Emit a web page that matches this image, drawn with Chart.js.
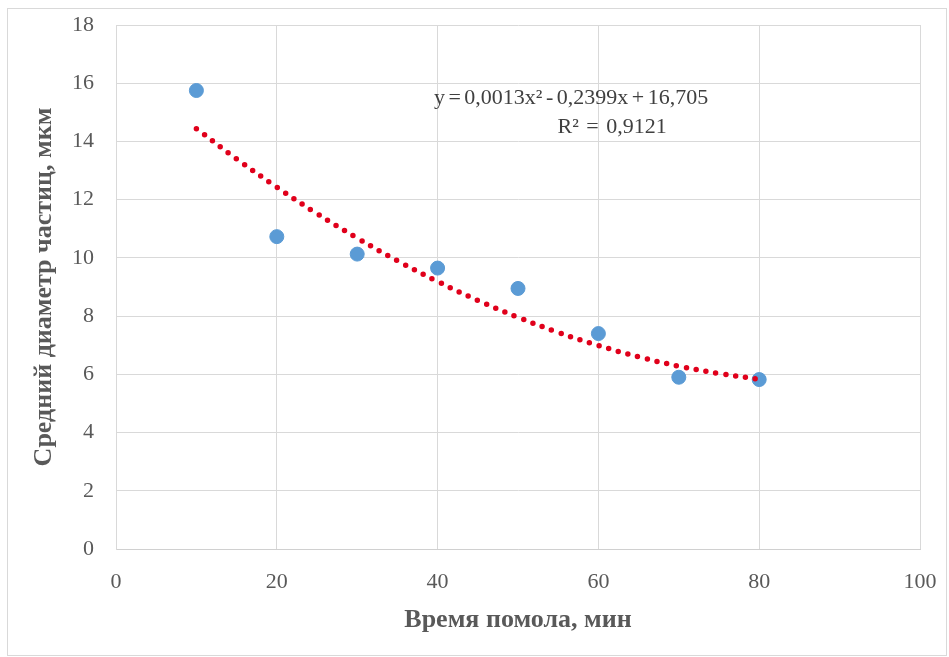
<!DOCTYPE html>
<html>
<head>
<meta charset="utf-8">
<script src="https://cdn.jsdelivr.net/npm/chart.js@4/dist/chart.umd.min.js"></script>
<style>
  body { margin: 0; background: #fff; }
  #wrap { width: 949px; height: 657px; }
</style>
</head>
<body>
<div id="wrap"><canvas id="chart" width="949" height="657"></canvas></div>
<script>
// время помола, мин и средний диаметр частиц, мкм
var minutes = [10, 20, 30, 40, 50, 60, 70, 80];
var diameter = [15.75, 10.73, 10.13, 9.65, 8.95, 7.40, 5.90, 5.82];

// точки линии тренда
var trendX = [10, 15, 20, 25, 30, 35, 40, 45, 50, 55, 60, 65, 70, 75, 80];
var trendY = [14.44, 13.40, 12.43, 11.52, 10.68, 9.90, 9.19, 8.54, 7.96, 7.44, 6.99, 6.60, 6.28, 6.03, 5.83];

var equationText = "y = 0,0013x² - 0,2399x + 16,705";
var r2Text = "R² = 0,9121";

var serif = "'Liberation Serif', 'Times New Roman', serif";

var frame = {
  id: "frame",
  beforeDraw: function (chart) {
    var c = chart.ctx;
    c.save();
    c.fillStyle = "#fff";
    c.fillRect(0, 0, chart.width, chart.height);
    c.strokeStyle = "#d9d9d9";
    c.lineWidth = 1;
    c.strokeRect(7.5, 8.5, 939, 647);
    c.restore();
  },
  afterDraw: function (chart) {
    var c = chart.ctx;
    var sx = chart.scales.x, sy = chart.scales.y;
    c.save();
    c.fillStyle = "#404040";
    c.font = "22px " + serif;
    c.textAlign = "center";
    c.textBaseline = "middle";
    c.wordSpacing = "-2px";
    c.fillText(equationText, sx.getPixelForValue(56.6), sy.getPixelForValue(15.5));
    c.wordSpacing = "2px";
    c.fillText(r2Text, sx.getPixelForValue(61.7), sy.getPixelForValue(14.5));
    c.restore();
  }
};

var pts = minutes.map(function (m, i) { return { x: m, y: diameter[i] }; });
var trend = trendX.map(function (m, i) { return { x: m, y: trendY[i] }; });

var chart = new Chart("chart", {
  type: "scatter",
  data: {
    datasets: [
      {
        label: "trend",
        data: trend,
        showLine: true,
        borderColor: "#e0001b",
        borderWidth: 5.5,
        borderDash: [0, 10],
        borderCapStyle: "round",
        pointRadius: 0,
        tension: 0.4,
        order: 1
      },
      {
        label: "diameter",
        data: pts,
        backgroundColor: "#5b9bd5",
        borderColor: "#5b9bd5",
        pointRadius: 7,
        order: 2
      }
    ]
  },
  options: {
    responsive: false,
    animation: false,
    layout: { padding: { left: 10, right: 29, top: 25, bottom: 13 } },
    plugins: { legend: { display: false }, tooltip: { enabled: false } },
    scales: {
      x: {
        min: 0, max: 100,
        ticks: { stepSize: 20, color: "#595959", padding: 20, font: { family: serif, size: 22 } },
        grid: { color: "#d9d9d9", drawTicks: false },
        border: { color: "#d0d0d0" },
        title: {
          display: true, text: "Время помола, мин", color: "#595959",
          font: { family: serif, size: 26, weight: "bold" },
          padding: { top: 0, bottom: 8 }
        },
        afterFit: function (s) { s.height = 95; s.paddingLeft = 0; s.paddingRight = 0; }
      },
      y: {
        min: 0, max: 18,
        ticks: { stepSize: 2, color: "#595959", padding: 22, font: { family: serif, size: 22 } },
        grid: { color: "#d9d9d9", drawTicks: false },
        border: { color: "#d9d9d9" },
        title: {
          display: true, text: "Средний диаметр частиц, мкм", color: "#595959",
          font: { family: serif, size: 26, weight: "bold" },
          padding: { top: 19, bottom: 0 }
        },
        afterFit: function (s) { s.width = 106; s.paddingTop = 0; s.paddingBottom = 0; }
      }
    }
  },
  plugins: [frame]
});
</script>
</body>
</html>
